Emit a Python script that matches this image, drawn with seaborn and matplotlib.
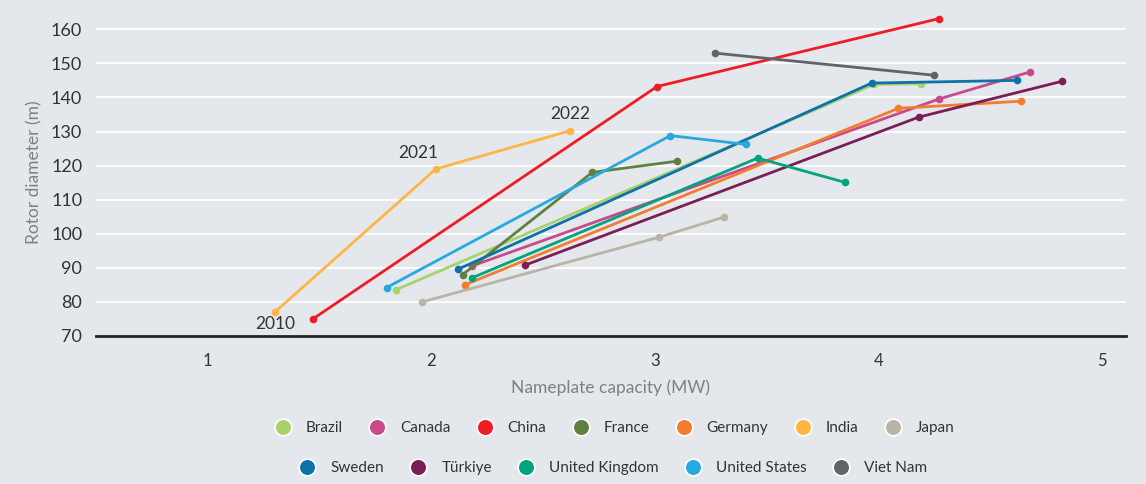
import pandas as pd
import matplotlib.pyplot as plt
import seaborn as sns
from matplotlib.lines import Line2D

countries = ["Brazil", "Canada", "China", "France", "Germany", "India", "Japan",
             "Sweden", "Türkiye", "United Kingdom", "United States", "Viet Nam"]
colors = ["#a6d36b", "#c94a8b", "#ee1c25", "#5e8142", "#f47c30", "#fdb643", "#b8b5a6",
          "#0e72a8", "#7a1e57", "#00a47f", "#26a9e1", "#606368"]

# one row per point: country, year, nameplate capacity (MW), rotor diameter (m)
country = ["Brazil"] * 3 + ["Canada"] * 3 + ["China"] * 3 + ["France"] * 3 + \
          ["Germany"] * 3 + ["India"] * 3 + ["Japan"] * 3 + ["Sweden"] * 3 + \
          ["Türkiye"] * 3 + ["United Kingdom"] * 3 + ["United States"] * 3 + ["Viet Nam"] * 2
year = [2010, 2021, 2022] * 11 + [2021, 2022]
capacity_mw = [1.84, 3.98, 4.19,
               2.18, 4.27, 4.68,
               1.47, 3.01, 4.27,
               2.14, 2.72, 3.10,
               2.15, 4.09, 4.64,
               1.30, 2.02, 2.62,
               1.96, 3.02, 3.31,
               2.12, 3.97, 4.62,
               2.42, 4.18, 4.82,
               2.18, 3.46, 3.85,
               1.80, 3.07, 3.41,
               3.27, 4.25]
rotor_m = [83.5, 143.8, 144.0,
           90.5, 139.5, 147.5,
           75.0, 143.2, 163.1,
           88.0, 118.0, 121.3,
           85.0, 136.8, 138.9,
           77.0, 119.0, 130.2,
           80.0, 99.0, 104.9,
           89.6, 144.2, 145.0,
           90.8, 134.2, 144.7,
           87.0, 122.2, 115.1,
           84.2, 128.8, 126.2,
           153.0, 146.5]

df = pd.DataFrame({"country": country, "year": year,
                   "capacity": capacity_mw, "rotor": rotor_m})
palette = dict(zip(countries, colors))

bg = "#e4e8ec"
sns.set_theme(style="white")
plt.rcParams["font.family"] = ["Lato", "DejaVu Sans"]

fig = plt.figure(figsize=(11.46, 4.84), dpi=100, facecolor=bg)
ax = fig.add_axes([0.0838, 0.3058, 0.8987, 0.676])
ax.set_facecolor(bg)

sns.lineplot(data=df, x="capacity", y="rotor", hue="country", hue_order=countries,
             palette=palette, marker="o", markersize=5.5, markeredgewidth=0,
             linewidth=2, sort=False, estimator=None, legend=False, ax=ax, zorder=3)

ax.set_xlim(0.5, 5.108)
ax.set_ylim(70, 166)
ax.set_xticks([1, 2, 3, 4, 5])
ax.set_yticks(range(70, 161, 10))
for yv in range(80, 161, 10):
    ax.axhline(yv, color="white", linewidth=1.3, zorder=1)

for s in ["top", "right", "left"]:
    ax.spines[s].set_visible(False)
ax.spines["bottom"].set_color("#222222")
ax.spines["bottom"].set_linewidth(2)
ax.tick_params(axis="x", direction="out", length=7, width=1.8, color="#222222",
               labelsize=12, labelcolor="#333333", pad=5)
ax.tick_params(axis="y", length=0, labelsize=13, labelcolor="#333333", pad=10)

ax.set_xlabel("Nameplate capacity (MW)", fontsize=12.5, color="#808080", labelpad=8)
ax.set_ylabel("Rotor diameter (m)", fontsize=12.5, color="#808080", labelpad=6)

ax.text(1.30, 73.4, "2010", fontsize=12.5, color="#333333", ha="center", va="center")
ax.text(1.94, 123.8, "2021", fontsize=12.5, color="#333333", ha="center", va="center")
ax.text(2.62, 135.2, "2022", fontsize=12.5, color="#333333", ha="center", va="center")


def make_handles(names):
    return [Line2D([], [], linestyle="none", marker="o", markersize=12,
                   markerfacecolor=palette[n], markeredgecolor="white",
                   markeredgewidth=1.2, label=n) for n in names]


row1 = countries[:7]
row2 = countries[7:]
leg1 = fig.legend(handles=make_handles(row1), loc="center", bbox_to_anchor=(0.533, 0.116),
                  ncol=7, frameon=False, fontsize=11, labelcolor="#333333",
                  handletextpad=0.5, columnspacing=1.25)
leg2 = fig.legend(handles=make_handles(row2), loc="center", bbox_to_anchor=(0.532, 0.033),
                  ncol=5, frameon=False, fontsize=11, labelcolor="#333333",
                  handletextpad=0.5, columnspacing=1.25)

fig.savefig("out.png", dpi=100, facecolor=bg)
